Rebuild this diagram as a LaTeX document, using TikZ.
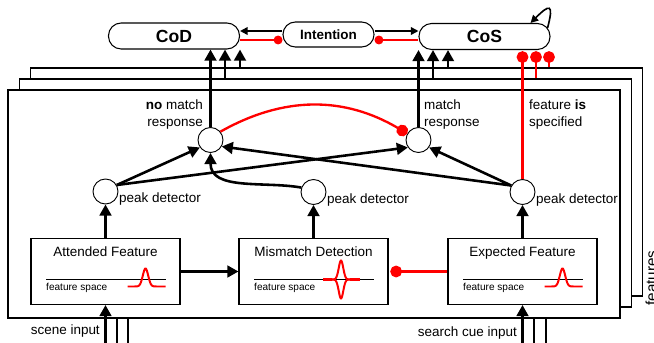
\documentclass[tikz,border=0pt]{standalone}
\usepackage{fontspec}
\setmainfont{Liberation Sans}
\usetikzlibrary{arrows.meta,calc,positioning}
\tikzset{
  arr/.style={line width=2.2pt, -{Triangle[length=9.5pt,width=10pt]}},
  arrthin/.style={line width=1.4pt, -{Triangle[length=6.5pt,width=6.5pt]}},
  inh/.style={red, line width=2pt, -{Circle[length=10pt]}},
  inhthin/.style={red, line width=1.5pt, -{Circle[length=7.5pt]}},
  statebox/.style={rectangle, rounded corners=0.38cm, draw, line width=0.9pt, minimum height=0.78cm, minimum width=3.93cm, font=\bfseries\fontsize{15}{15}\selectfont},
  cell/.style={circle, draw, fill=white, line width=0.8pt, minimum size=0.75cm, inner sep=0pt},
  featbox/.style={rectangle, draw, fill=white, line width=0.9pt, minimum width=4.47cm, minimum height=1.98cm},
  layerbox/.style={rectangle, draw, fill=white, line width=1.1pt, minimum width=18.36cm, minimum height=6.84cm},
  lbl/.style={inner sep=0pt, font=\fontsize{11.5}{15.3}\selectfont},
  smalltxt/.style={inner sep=0pt, font=\fontsize{8.6}{10}\selectfont},
  axisline/.style={line width=0.8pt},
  tuning/.style={red, line width=1.7pt}
}
\begin{document}
\begin{tikzpicture}[x=0.03cm, y=-0.03cm]
  \useasboundingbox (0,0) rectangle (654,343);

  % stacked feature layers
  \node[layerbox] (lay3) at (336.5,182) {};
  \node[layerbox] (lay2) at (325.5,193) {};
  \node[layerbox] (lay1) at (314,204) {};
  \node[lbl, rotate=90, anchor=base, font=\fontsize{13}{15}\selectfont] (featlbl) at (656.5,278) {features};

  % states on top
  \node[statebox] (cod) at (174,36) {CoD};
  \node[statebox, minimum width=2.73cm, minimum height=0.75cm, rounded corners=0.37cm, font=\bfseries\fontsize{11.5}{12}\selectfont] (int) at (328.5,34.5) {Intention};
  \node[statebox] (cos) at (484.5,36.5) {CoS};

  % cells
  \node[cell] (nm) at (210.5,140) {};
  \node[cell] (mr) at (418.5,140) {};
  \node[cell] (pk1) at (105.5,191.5) {};
  \node[cell] (pk2) at (313.5,192) {};
  \node[cell] (pk3) at (522.5,192) {};

  % feature boxes
  \node[featbox] (af) at (105.5,271.5) {};
  \node[featbox] (md) at (313.5,271.5) {};
  \node[featbox] (ef) at (522.5,271.5) {};
  \node[lbl, anchor=base] (af-t) at ($(af.north)+(0,19)$) {Attended Feature};
  \node[lbl, anchor=base] (md-t) at ($(md.north)+(0,19)$) {Mismatch Detection};
  \node[lbl, anchor=base] (ef-t) at ($(ef.north)+(0,19)$) {Expected Feature};

  \foreach \b in {af,md,ef} {
    \draw[axisline] ($(\b.center)+(-59.5,8)$) -- ++(120,0);
    \node[smalltxt, anchor=base west] (\b-fs) at ($(\b.center)+(-59.5,18.5)$) {feature space};
  }
  \foreach \b in {af,ef} {
    \begin{scope}[shift={(\b.center)}]
      \draw[tuning] (22,15) -- (29,15) -- plot[domain=29:51, samples=40] ({\x},{15-18*exp(-pow((\x-40)/3.8,2))}) -- (60,15);
    \end{scope}
  }
  \begin{scope}[shift={(md.center)}]
    \draw[red, line width=3.2pt] (9.5,8) -- (18.5,8) (36.5,8) -- (46.5,8);
    \draw[tuning] plot[domain=18.5:36.5, samples=40] ({\x},{8-19*exp(-pow((\x-27.5)/3.2,2))});
    \draw[tuning] plot[domain=18.5:36.5, samples=40] ({\x},{8+19*exp(-pow((\x-27.5)/3.2,2))});
  \end{scope}

  % labels
  \node[lbl, anchor=south east, align=right] (nm-l) at (203,130) {\textbf{no} match\\response};
  \node[lbl, anchor=south west, align=left] (mr-l) at (424,130) {match\\response};
  \node[lbl, anchor=south west, align=left] (fs-l) at (529,130) {feature \textbf{is}\\specified};
  \foreach \p in {pk1,pk2,pk3}
    \node[lbl, anchor=base west] (\p-l) at ($(\p)+(13.5,11)$) {peak detector};
  \node[lbl, anchor=base east] (scene) at (100,334) {scene input};
  \node[lbl, anchor=base east] (cue) at (517,336) {search cue input};

  % inputs
  \coordinate (sc0) at (105.5,343);
  \coordinate (cu0) at (522.5,343);
  \draw[arr] (sc0) -- (af.south);
  \draw[arr] (cu0) -- (ef.south);
  \foreach \x [count=\i] in {117,128} {
    \coordinate (sc\i) at (\x,343);
    \draw[line width=2.2pt] (sc\i) -- (sc\i |- lay1.south);
  }
  \foreach \x [count=\i] in {534,546} {
    \coordinate (cu\i) at (\x,343);
    \draw[line width=2.2pt] (cu\i) -- (cu\i |- lay1.south);
  }

  % feature level
  \draw[arr] (af) -- (md);
  \draw[inh, shorten >=1.5pt] (ef) -- (md);
  \draw[arr] (af) -- (pk1);
  \draw[arr] (md) -- (pk2);
  \draw[arr] (ef) -- (pk3);

  % peak detectors to responses
  \draw[arr] (pk1.30) -- (nm.215);
  \draw[arr] (pk1.30) -- (mr.215);
  \draw[arr] (pk3.150) -- (nm.-30);
  \draw[arr] (pk3.150) -- (mr.-35);
  \draw[arr] (pk2.160) to[out=170, in=-90] (nm.south);
  \draw[inh] (nm.40) to[bend left=30] (mr.150);

  % responses to states
  \coordinate (codB) at ($(cod.south)+(51,0)$);
  \coordinate (codC) at ($(cod.south)+(66,0)$);
  \draw[arr] (nm) -- (nm |- cod.south);
  \draw[arr] (lay2.north -| codB) -- (codB);
  \draw[arr] (lay3.north -| codC) -- (codC);
  \coordinate (cosB) at ($(cos.south)+(-51.5,0)$);
  \coordinate (cosC) at ($(cos.south)+(-36.5,0)$);
  \draw[arr] (mr) -- (mr |- cos.south);
  \draw[arr] (lay2.north -| cosB) -- (cosB);
  \draw[arr] (lay3.north -| cosC) -- (cosC);
  \coordinate (cosE) at ($(cos.south)+(51.5,0)$);
  \coordinate (cosF) at ($(cos.south)+(64.5,0)$);
  \draw[inh, shorten >=1pt] (pk3) -- (pk3 |- cos.south);
  \draw[inh, shorten >=1pt] (lay2.north -| cosE) -- (cosE);
  \draw[inh, shorten >=1pt] (lay3.north -| cosF) -- (cosF);

  % intention
  \coordinate (intA) at ($(int.west)+(0,-3.5)$);
  \coordinate (intB) at ($(int.west)+(0,5.5)$);
  \coordinate (intC) at ($(int.east)+(0,-3.5)$);
  \coordinate (intD) at ($(int.east)+(0,5.5)$);
  \draw[arrthin] (intA) -- (intA -| cod.east);
  \draw[inhthin] (intB -| cod.east) -- (intB);
  \draw[arrthin] (intC) -- (intC -| cos.west);
  \draw[inhthin] (intD -| cos.west) -- (intD);
  \draw[arrthin] ($(cos.north east)+(-3,5)$) to[out=75, in=45, looseness=3.8] ($(cos.north east)+(-20,0)$);
\end{tikzpicture}
\end{document}
